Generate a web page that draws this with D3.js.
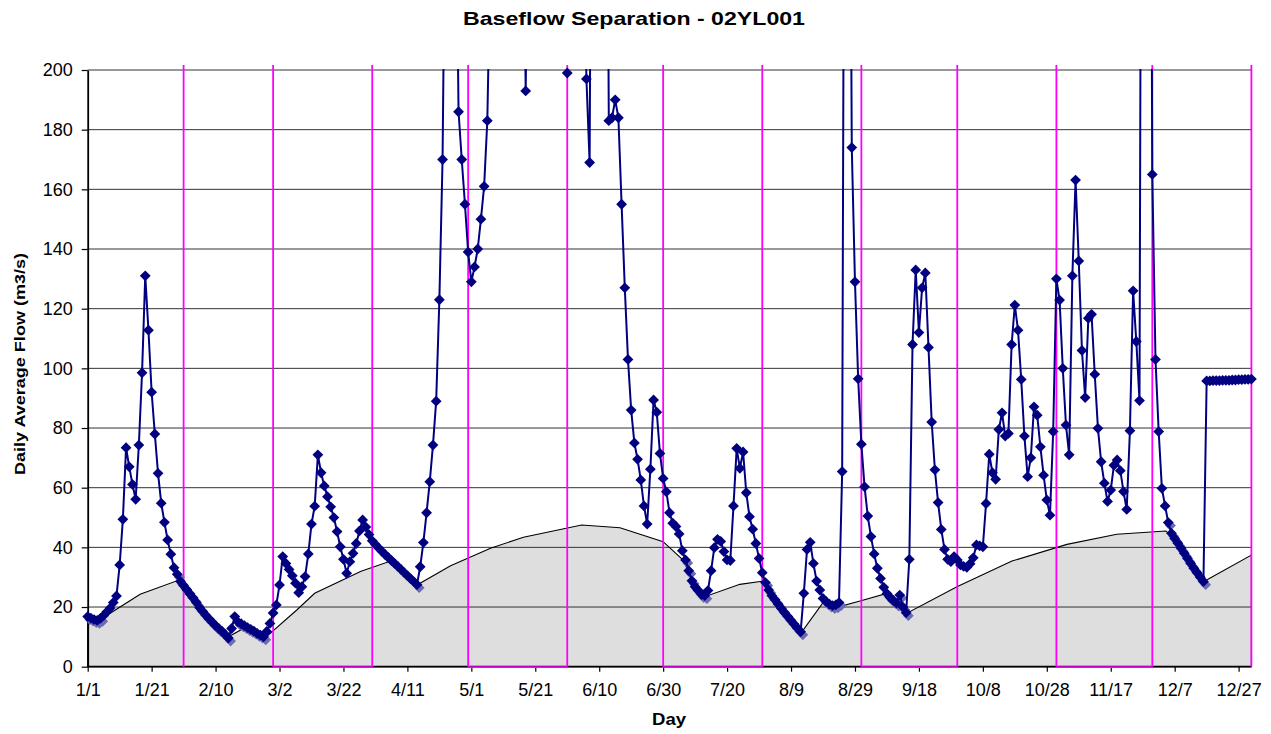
<!DOCTYPE html>
<html>
<head>
<meta charset="utf-8">
<script src="https://cdn.jsdelivr.net/npm/d3@7"></script>
<style>
  html, body { margin: 0; padding: 0; background: #fff; }
  svg { display: block; }
  text { font-family: "Liberation Sans", Arial, Helvetica, sans-serif; }
</style>
</head>
<body>
<svg id="chart" width="1271" height="734"></svg>
<script>
// ---------------- DATA ----------------
const title = "Baseflow Separation - 02YL001";
const xTitle = "Day";
const yTitle = "Daily Average Flow (m3/s)";

// x tick labels (every 20 days, day index from Jan 1 = 0)
const xTickDays = [0,20,40,60,80,100,120,140,160,180,200,220,240,260,280,300,320,340,360];
const xTickLabels = ["1/1","1/21","2/10","3/2","3/22","4/11","5/1","5/21","6/10","6/30","7/20","8/9","8/29","9/18","10/8","10/28","11/17","12/7","12/27"];
const yTicks = [0,20,40,60,80,100,120,140,160,180,200];

// daily average flow (m3/s), one array per month
const jan = [16.8,16.3,15.8,15.5,16.2,17.2,18.4,19.6,21.5,23.7,34.1,49.4,73.4,67,61.1,56.1,74.3,98.5,131,112.8,92,78,64.8,54.8,48.4,42.5,37.7,33.2,31,28.6,27.2];
const feb = [25.8,24.4,23,21.5,19.8,18.5,17.2,16,14.9,13.8,12.8,11.9,10.8,9.6,12.8,16.8,15,14.4,13.8,13.1,12.5,11.9,11.2,10.6,10,11.8,14.5,18];
const mar = [20.7,27.4,36.9,34.6,32.6,30.5,28,24.8,26.8,30.2,37.8,47.8,53.8,71,65,60.6,57,53.6,50,45.3,40.2,36,31.3,35.2,38,41.3,45.5,49.2,46.8,44.3,42.2];
const apr = [41,39.8,38.7,37.6,36.6,35.6,34.6,33.6,32.6,31.5,30.5,29.5,28.5,27.5,33.5,41.6,51.6,62,74.3,89,123,170,280,350,330,280,186,170,155,139];
const may = [129,134,140,150,161,183,240,320,410,480,530,560,520,470,400,340,290,193,280,360,420,460,440,400,370,340,320,300,280,250,199];
const jun = [260,300,320,300,260,197,169,400,480,500,460,380,183,184,190,184,155,127,103,86,75,69.5,62.6,53.9,47.8,66.2,89.4,85.3,71.5,63.1];
const jul = [58.6,51.6,48.1,47,44.5,38.9,35.8,32.2,28.8,26.8,25.5,24.2,23.8,25.5,32.2,39.9,42.7,42,38.6,35.8,35.6,53.9,73.2,66.5,72,58.3,50.3,46.1,41.3,36.3,31.5];
const aug = [28.2,25.7,23.8,22.4,20.9,19.5,18.1,16.8,15.5,14.2,12.9,11.7,24.6,39.3,41.7,34.6,28.7,25.7,22.9,21.8,21,20.5,20.7,21.5,65.4,420,380,174,129,96.5,74.6];
const sep = [60.3,50.5,43.6,37.8,33,29.6,26.6,24.5,23.2,22.2,21.3,24,20,18.1,36,108,133,112,127,132,107,82,66,55,46,39.3,36,35.2,36.9,35.8];
const oct = [34.1,33.6,33.3,34.5,36.5,40.8,40.5,40.2,54.7,71.2,65,62.8,79.5,85.1,77.3,78.2,108,121.2,112.8,96.3,77.3,63.7,70,87.1,84.3,73.7,64.2,55.9,50.8,78.8,130];
const nov = [122.9,100,81,71,131,163.1,136,106,90.2,116.8,118.1,98,79.9,68.7,61.5,55.4,59.2,67.5,69.3,65.7,58.7,52.7,79.1,126,109,89.2,480,520,450,165];
const dec = [103,78.8,59.8,53.9,48.3,44.7,43,41.4,39.7,38,36.3,34.6,33,31.5,30,28.5,95.8,95.8,95.9,95.9,95.9,96,96,96,96.1,96.1,96.2,96.2,96.3,96.3,96.4];

// baseflow separation line vertices: [day index, flow]
const baseflow = [[0,17],[3.3,15.4],[16.4,24.3],[27.7,28.7],[31,24.6],[35,19.2],[39,14.6],[43.6,9.8],[49.7,13.4],[55.3,9.5],[65.4,19],[71,24.6],[85.5,32],[95,35.5],[103,27.4],[113.5,33.8],[126,39.7],[136.3,43.4],[154.5,47.5],[166.5,46.6],[180,41.9],[186,36],[189,29.8],[192.6,23.3],[204,27.6],[211.4,28.7],[215,22.5],[219,17],[223.4,11.7],[230.1,21.6],[234.3,19.9],[241.6,22],[249.4,24.4],[256.7,18.2],[271.9,26.8],[289.1,35.4],[306.3,41],[321.9,44.4],[337.3,45.5],[339.5,43],[342,39.6],[345,34.7],[349,28.5],[364,37.4]];

// month-end marker lines (day index of last day of each month)
const monthEnds = [30,58,89,119,150,180,211,242,272,303,333,364];
// spans where the month marker runs along the zero line
const monthLowSpans = [[58,89],[119,150],[180,211],[242,272],[303,333]];

// day ranges where the flow sits on the baseflow (shadowed markers)
const shadowRanges = [[0,4],[28,44],[47,55],[103,103],[187,193],[212,223],[231,235],[250,256],[338,349]];

// ---------------- CHART ----------------
const flow = [].concat(jan,feb,mar,apr,may,jun,jul,aug,sep,oct,nov,dec);
const W = 1271, H = 734;
const pL = 87.7, pR = 1251.4, pT = 70, pB = 666.7;
const svg = d3.select("#chart");
const x = d3.scaleLinear().domain([0,364]).range([pL,pR]);
const y = d3.scaleLinear().domain([0,200]).range([pB,pT]);

svg.append("rect").attr("width",W).attr("height",H).attr("fill","#fff");

const defs = svg.append("defs");
defs.append("clipPath").attr("id","plotclip").append("rect")
  .attr("x",pL).attr("y",pT-1).attr("width",pR-pL+2).attr("height",pB-pT+1);

// baseflow area fill
const area = d3.area().x(d=>x(d[0])).y0(y(0)).y1(d=>y(d[1]));
svg.append("path").datum(baseflow).attr("d",area).attr("fill","#dedede").attr("stroke","none");

// gridlines
svg.append("g").selectAll("line").data(yTicks.filter(v=>v>0)).join("line")
  .attr("x1",pL).attr("x2",pR).attr("y1",d=>y(d)).attr("y2",d=>y(d))
  .attr("stroke","#333").attr("stroke-width",1);

// baseflow outline
svg.append("path").datum(baseflow).attr("d",area).attr("fill","none")
  .attr("stroke","#000").attr("stroke-width",1.1);

// axes
const yAxis = d3.axisLeft(y).tickValues(yTicks).tickSizeInner(6).tickSizeOuter(0).tickPadding(9);
const gy = svg.append("g").attr("transform",`translate(${pL},0)`).call(yAxis);
const xAxis = d3.axisBottom(x).tickValues(xTickDays).tickFormat((d,i)=>xTickLabels[i]).tickSizeInner(5).tickSizeOuter(0).tickPadding(12);
const gx = svg.append("g").attr("transform",`translate(0,${pB})`).call(xAxis);
[gx,gy].forEach(g=>{
  g.select(".domain").attr("stroke","#000").attr("stroke-width",1.8);
  g.selectAll(".tick line").attr("stroke","#000").attr("stroke-width",1.2);
  g.selectAll(".tick text").attr("fill","#000").style("font-size","18px").style("font-family",'"Liberation Sans", Arial, sans-serif');
});
gx.select(".domain").attr("d",`M${pL},0H${pR}`);

// month end lines
const mg = svg.append("g").attr("stroke","#ff00ff").attr("stroke-width",1.8).attr("fill","none");
mg.selectAll("line.v").data(monthEnds).join("line").attr("class","v")
  .attr("x1",d=>x(d)).attr("x2",d=>x(d)).attr("y1",y(0)).attr("y2",pT-5);
mg.selectAll("line.h").data(monthLowSpans).join("line").attr("class","h")
  .attr("x1",d=>x(d[0])).attr("x2",d=>x(d[1])).attr("y1",y(0)+0.5).attr("y2",y(0)+0.5);

// shadow markers
const diamond = "M0,-5.4L5.4,0L0,5.4L-5.4,0Z";
const shadowDays = [];
shadowRanges.forEach(r=>{ for (let d=r[0]; d<=r[1]; d++) shadowDays.push(d); });
svg.append("g").selectAll("path").data(shadowDays).join("path")
  .attr("d",diamond).attr("fill","#6a6ab0")
  .attr("transform",d=>`translate(${x(d)+2.2},${y(flow[d])+3})`);

// flow line
const line = d3.line().x((d,i)=>x(i)).y(d=>y(d));
svg.append("path").datum(flow).attr("d",line).attr("clip-path","url(#plotclip)")
  .attr("fill","none").attr("stroke","#000080").attr("stroke-width",2).attr("stroke-linejoin","round");

// flow markers
svg.append("g").selectAll("path").data(flow.map((v,i)=>[i,v]).filter(d=>d[1]<=200)).join("path")
  .attr("d",diamond).attr("fill","#000080")
  .attr("transform",d=>`translate(${x(d[0])},${y(d[1])})`);

// titles
svg.append("text").attr("x",634).attr("y",25).attr("text-anchor","middle")
  .attr("font-weight","bold").style("font-size","19px")
  .attr("textLength",342).attr("lengthAdjust","spacingAndGlyphs").text(title);
svg.append("text").attr("x",669).attr("y",725).attr("text-anchor","middle")
  .attr("font-weight","bold").style("font-size","16px")
  .attr("textLength",34).attr("lengthAdjust","spacingAndGlyphs").text(xTitle);
svg.append("text").attr("transform","translate(25,364) rotate(-90)").attr("text-anchor","middle")
  .attr("font-weight","bold").style("font-size","15px")
  .attr("textLength",222).attr("lengthAdjust","spacingAndGlyphs").text(yTitle);
</script>
</body>
</html>
